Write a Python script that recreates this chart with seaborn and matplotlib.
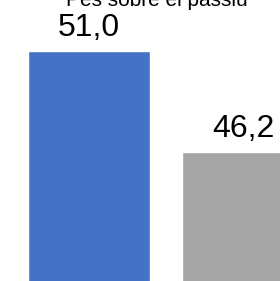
import numpy as np
import pandas as pd
from matplotlib import pyplot as plt
import seaborn as sns

categories = ['A', 'B']
values = [51.0, 46.2]
labels = ['51,0', '46,2']
colors = ['#4472C4', '#A5A5A5']

sns.set_style('white')
plt.rcParams['font.family'] = ['Liberation Sans', 'DejaVu Sans']
plt.rcParams['text.color'] = 'black'

fig = plt.figure(figsize=(2.8, 2.81), dpi=100)
ax = fig.add_axes([0, 0, 1, 1])

df = pd.DataFrame({'cat': categories, 'val': values})
sns.barplot(data=df, x='cat', y='val', hue='cat', palette=colors,
            width=0.792, legend=False, ax=ax, saturation=1)

ax.bar_label(ax.containers[0], labels=[labels[0]], padding=6, fontsize=23, color='black')
ax.bar_label(ax.containers[1], labels=[labels[1]], padding=6, fontsize=23, color='black')

ax.set_xlim(-0.578, 1.240)
ax.set_ylim(40.07, 53.42)
ax.axis('off')

fig.text(157 / 280, 1 - 6 / 281, 'Pes sobre el passiu', ha='center',
         va='baseline', fontsize=15, color='black')

plt.savefig('out.png', format='png', dpi=100)
